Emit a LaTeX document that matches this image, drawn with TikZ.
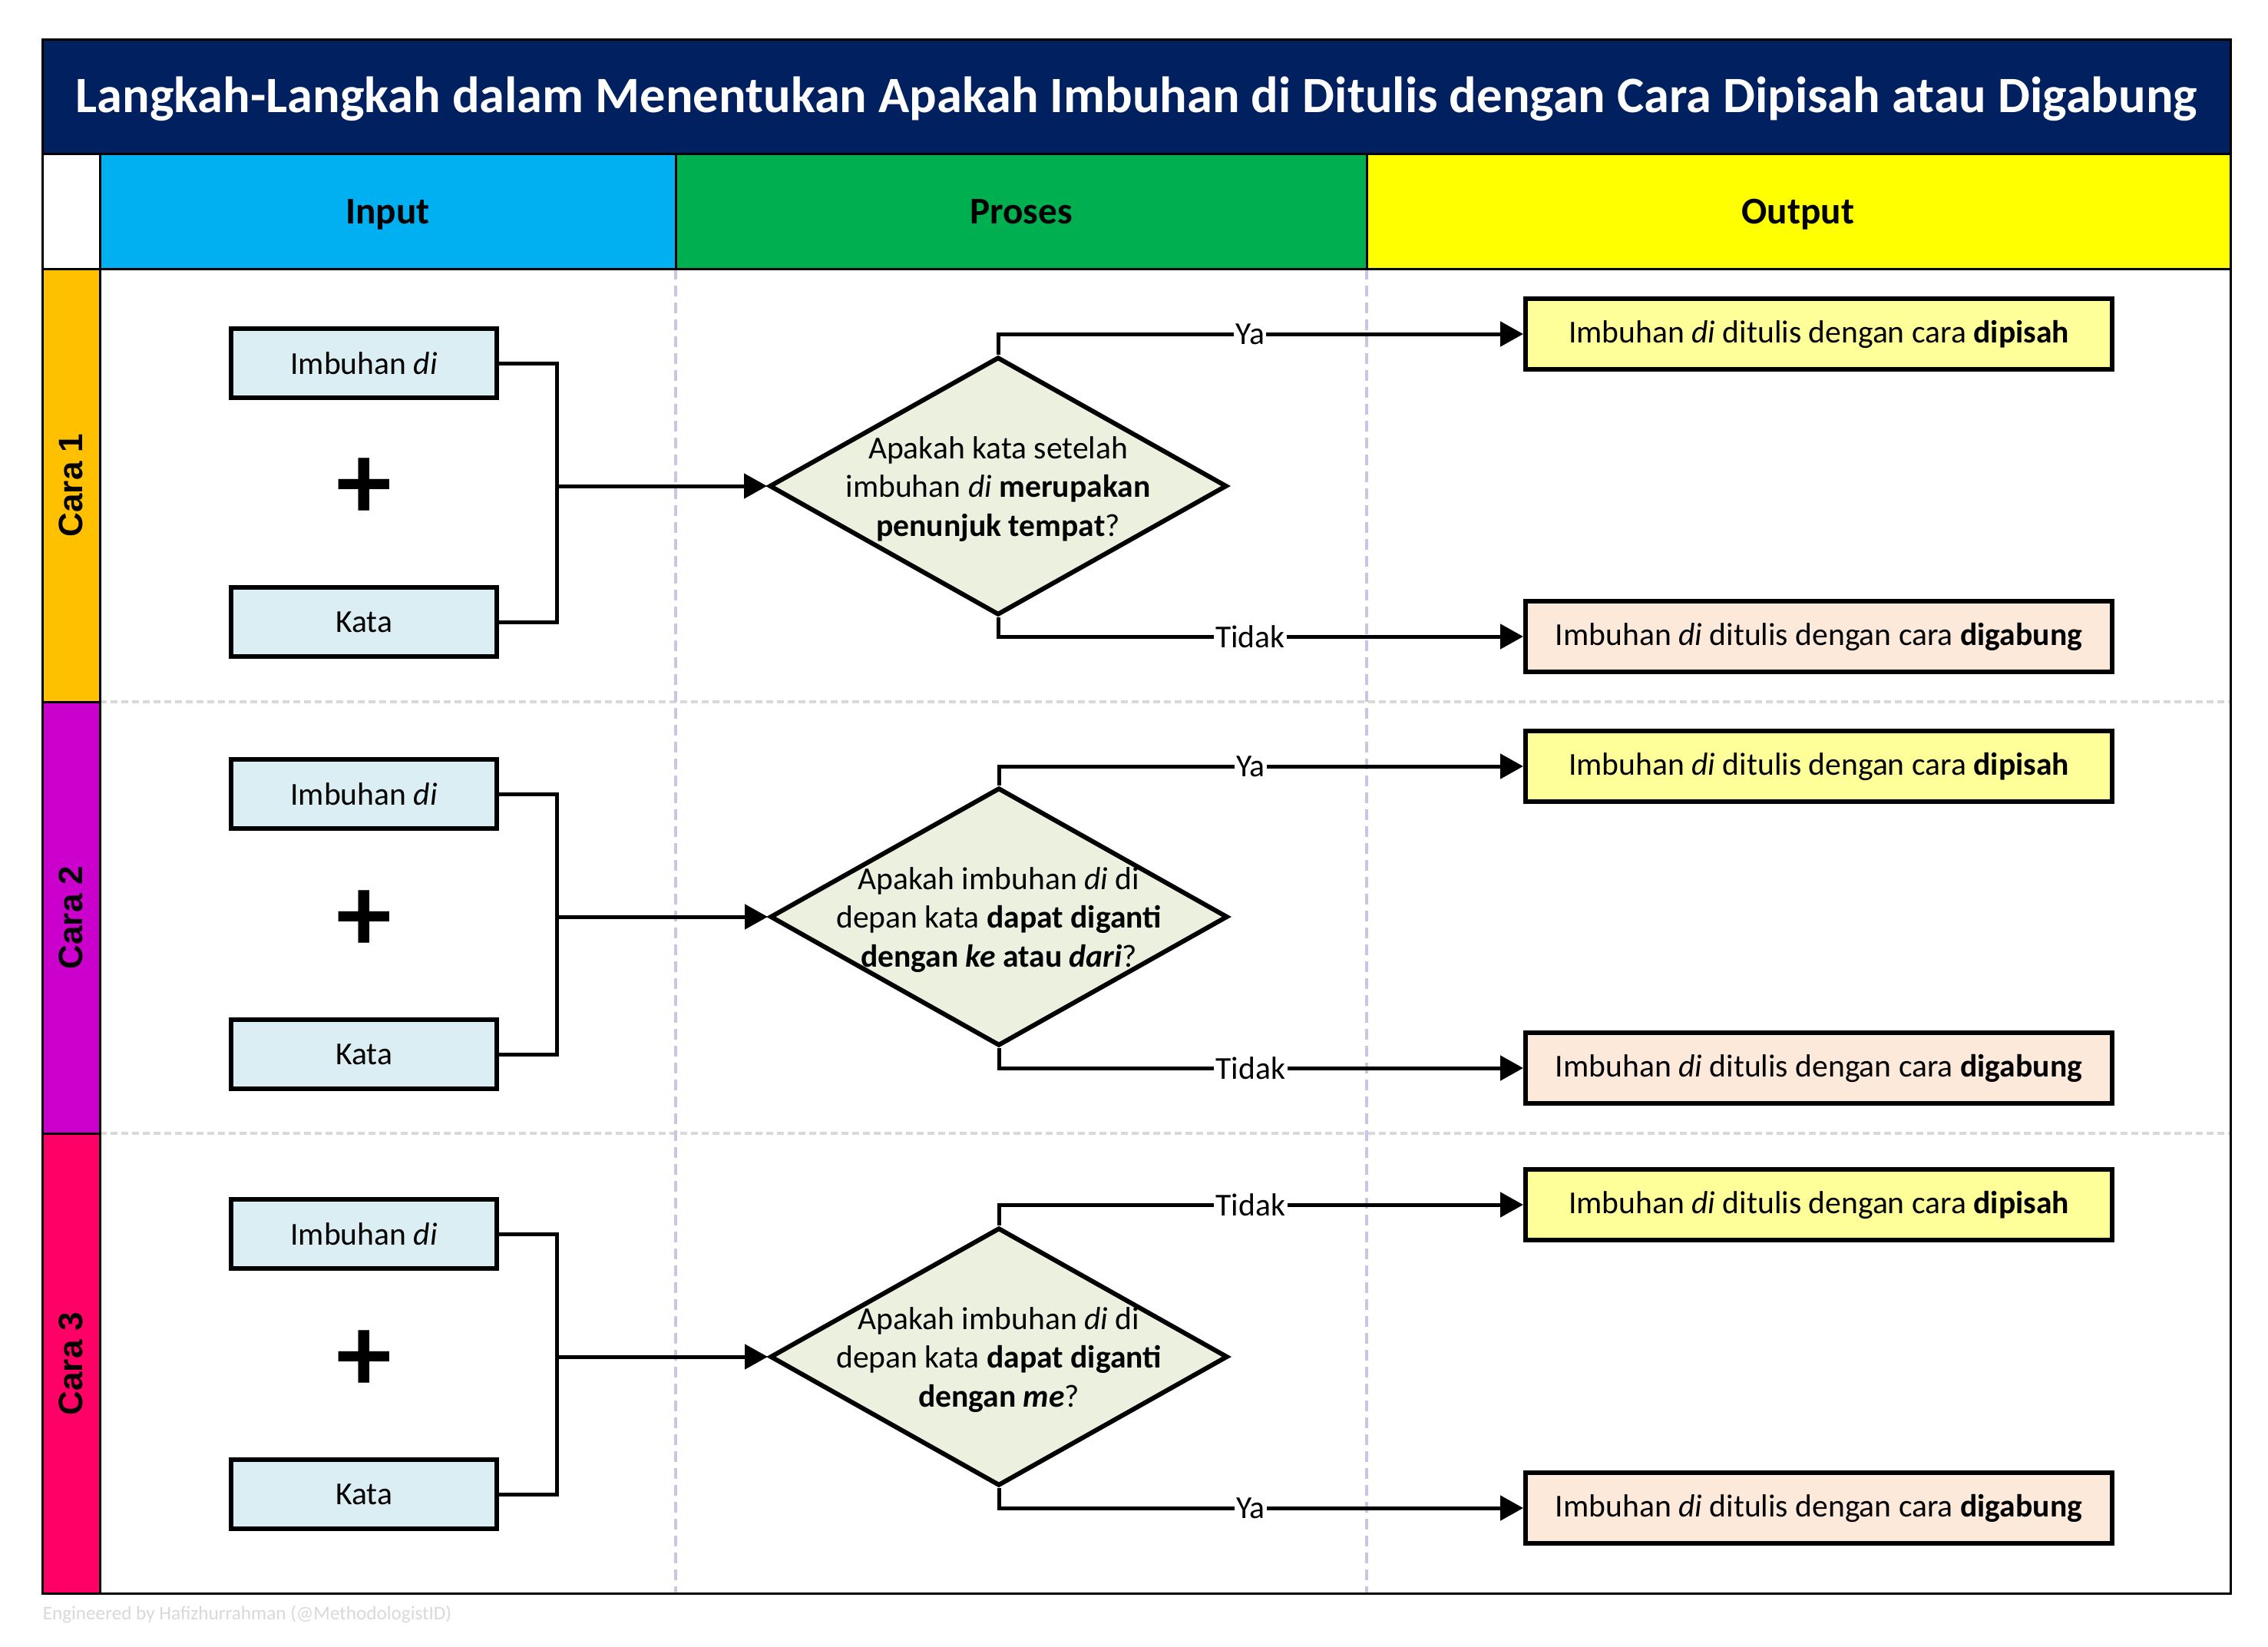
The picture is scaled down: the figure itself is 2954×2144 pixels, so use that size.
\documentclass[tikz,border=0pt]{standalone}
\usepackage{fontspec}
\setmainfont{Carlito}
\newfontfamily\arialfont{Liberation Sans}
\usetikzlibrary{shapes.geometric,arrows.meta,calc}
\definecolor{navyband}{HTML}{002060}
\definecolor{hdinput}{HTML}{00B0F0}
\definecolor{hdproses}{HTML}{00B050}
\definecolor{hdoutput}{HTML}{FFFF00}
\definecolor{laneone}{HTML}{FFC000}
\definecolor{lanetwo}{HTML}{CC00CC}
\definecolor{lanethree}{HTML}{FF0066}
\definecolor{inblue}{HTML}{DAEEF3}
\definecolor{decgreen}{HTML}{EBF1DE}
\definecolor{outyellow}{HTML}{FFFF99}
\definecolor{outpeach}{HTML}{FDE9D9}
\definecolor{sepgray}{HTML}{D9D9D9}
\definecolor{lavender}{HTML}{C9C5E2}
\begin{document}
\begin{tikzpicture}[x=0.25pt,y=-0.25pt,
  bodyfont/.style={font=\fontsize{10.4}{12.7}\selectfont},
  inbox/.style={draw=black, line width=1.5pt, fill=inblue, minimum width=86.5pt, minimum height=22.5pt, inner sep=0pt, bodyfont},
  outbox/.style={draw=black, line width=1.5pt, minimum width=191pt, minimum height=23pt, inner sep=0pt, bodyfont},
  yesbox/.style={outbox, fill=outyellow},
  nobox/.style={outbox, fill=outpeach},
  decision/.style={diamond, draw=black, line width=1.5pt, fill=decgreen, minimum width=149pt, minimum height=84pt, inner sep=0pt},
  dectext/.style={align=center, bodyfont, inner sep=0pt},
  conn/.style={draw=black, line width=1.25pt},
  arr/.style={conn, -{Triangle[length=7.5pt,width=8pt]}},
  lbl/.style={fill=white, inner sep=0.6pt, bodyfont},
  plussign/.style={font=\fontsize{36}{36}\bfseries\selectfont, inner sep=0pt},
  headtext/.style={font=\fontsize{12.3}{14}\bfseries\selectfont, anchor=base, inner sep=0pt},
  caratext/.style={font=\arialfont\fontsize{11}{12}\bfseries\selectfont, rotate=90},
  lanesep/.style={draw=sepgray, line width=1pt, dash pattern=on 2.2pt off 1.3pt},
  colsep/.style={draw=lavender, line width=0.8pt, dash pattern=on 3.5pt off 2pt}
]
\useasboundingbox (0,0) rectangle (2954,2144);
\fill[white] (0,0) rectangle (2954,2144);

% title band and header
\fill[navyband] (55,51) rectangle (2905,200);
\fill[hdinput] (130,200) rectangle (880,350);
\fill[hdproses] (880,200) rectangle (1780,350);
\fill[hdoutput] (1780,200) rectangle (2905,350);
% lane strips
\fill[laneone] (55,350) rectangle (130,914);
\fill[lanetwo] (55,914) rectangle (130,1476);
\fill[lanethree] (55,1476) rectangle (130,2075);

% separators
\draw[lanesep] (130,914) -- (2905,914);
\draw[lanesep] (130,1476) -- (2905,1476);
\draw[colsep] (880,350) -- (880,2075);
\draw[colsep] (1780,350) -- (1780,2075);

% grid lines
\draw[line width=0.75pt] (55,200) -- (2905,200);
\draw[line width=0.75pt] (55,350) -- (2905,350);
\draw[line width=0.75pt] (130,200) -- (130,2075);
\draw[line width=0.75pt] (880,200) -- (880,350);
\draw[line width=0.75pt] (1780,200) -- (1780,350);
\draw[line width=0.75pt] (55,914) -- (130,914);
\draw[line width=0.75pt] (55,1476) -- (130,1476);
\draw[line width=0.75pt] (55,51) rectangle (2905,2075);

% texts
\node[text=white, font=\fontsize{16.6}{19}\bfseries\selectfont, anchor=base, inner sep=0pt] (title) at (1480,146) {Langkah-Langkah dalam Menentukan Apakah Imbuhan di Ditulis dengan Cara Dipisah atau Digabung};
\node[headtext] (hin) at (505,291) {Input};
\node[headtext] (hpr) at (1330,291) {Proses};
\node[headtext] (hout) at (2342,291) {Output};
\node[caratext] (c1) at (92,632) {Cara 1};
\node[caratext] (c2) at (92,1195) {Cara 2};
\node[caratext] (c3) at (92,1776) {Cara 3};

% ---------- Cara 1
\node[inbox] (i1) at (474,473) {Imbuhan \textit{di}};
\node[inbox] (k1) at (474,810) {Kata};
\node[plussign] (p1) at (474,637) {+};
\coordinate (j1) at (725,633);
\node[decision] (d1) at (1300,633) {};
\node[dectext] (t1) at (1300,637) {Apakah kata setelah\\imbuhan \textit{di} \textbf{merupakan}\\\textbf{penunjuk tempat}?};
\node[yesbox] (o1a) at (2369,435) {Imbuhan \textit{di} ditulis dengan cara \textbf{dipisah}};
\node[nobox] (o1b) at (2369,829) {Imbuhan \textit{di} ditulis dengan cara \textbf{digabung}};
\draw[conn] (i1.east) -| (j1) |- (k1.east);
\draw[arr] (j1) -- (d1.west);
\draw[arr] (d1.north) |- node[lbl, pos=0.74] (y1) {Ya} (o1a.west);
\draw[arr] (d1.south) |- node[lbl, pos=0.74] (n1) {Tidak} (o1b.west);

% ---------- Cara 2
\node[inbox] (i2) at (474,1034) {Imbuhan \textit{di}};
\node[inbox] (k2) at (474,1373) {Kata};
\node[plussign] (p2) at (474,1200) {+};
\coordinate (j2) at (725,1194);
\node[decision] (d2) at (1301,1194) {};
\node[dectext] (t2) at (1301,1198) {Apakah imbuhan \textit{di} di\\depan kata \textbf{dapat diganti}\\\textbf{dengan \textit{ke} atau \textit{dari}}?};
\node[yesbox] (o2a) at (2369,998) {Imbuhan \textit{di} ditulis dengan cara \textbf{dipisah}};
\node[nobox] (o2b) at (2369,1391) {Imbuhan \textit{di} ditulis dengan cara \textbf{digabung}};
\draw[conn] (i2.east) -| (j2) |- (k2.east);
\draw[arr] (j2) -- (d2.west);
\draw[arr] (d2.north) |- node[lbl, pos=0.74] (y2) {Ya} (o2a.west);
\draw[arr] (d2.south) |- node[lbl, pos=0.74] (n2) {Tidak} (o2b.west);

% ---------- Cara 3
\node[inbox] (i3) at (474,1607) {Imbuhan \textit{di}};
\node[inbox] (k3) at (474,1946) {Kata};
\node[plussign] (p3) at (474,1773) {+};
\coordinate (j3) at (725,1767);
\node[decision] (d3) at (1301,1767) {};
\node[dectext] (t3) at (1301,1771) {Apakah imbuhan \textit{di} di\\depan kata \textbf{dapat diganti}\\\textbf{dengan \textit{me}}?};
\node[yesbox] (o3a) at (2369,1569) {Imbuhan \textit{di} ditulis dengan cara \textbf{dipisah}};
\node[nobox] (o3b) at (2369,1964) {Imbuhan \textit{di} ditulis dengan cara \textbf{digabung}};
\draw[conn] (i3.east) -| (j3) |- (k3.east);
\draw[arr] (j3) -- (d3.west);
\draw[arr] (d3.north) |- node[lbl, pos=0.74] (n3) {Tidak} (o3a.west);
\draw[arr] (d3.south) |- node[lbl, pos=0.74] (y3) {Ya} (o3b.west);

% footer
\node[anchor=west, text=sepgray, font=\fontsize{6.3}{7}\selectfont, inner sep=0pt] (foot) at (55,2102) {Engineered by Hafizhurrahman (@MethodologistID)};
\end{tikzpicture}
\end{document}
